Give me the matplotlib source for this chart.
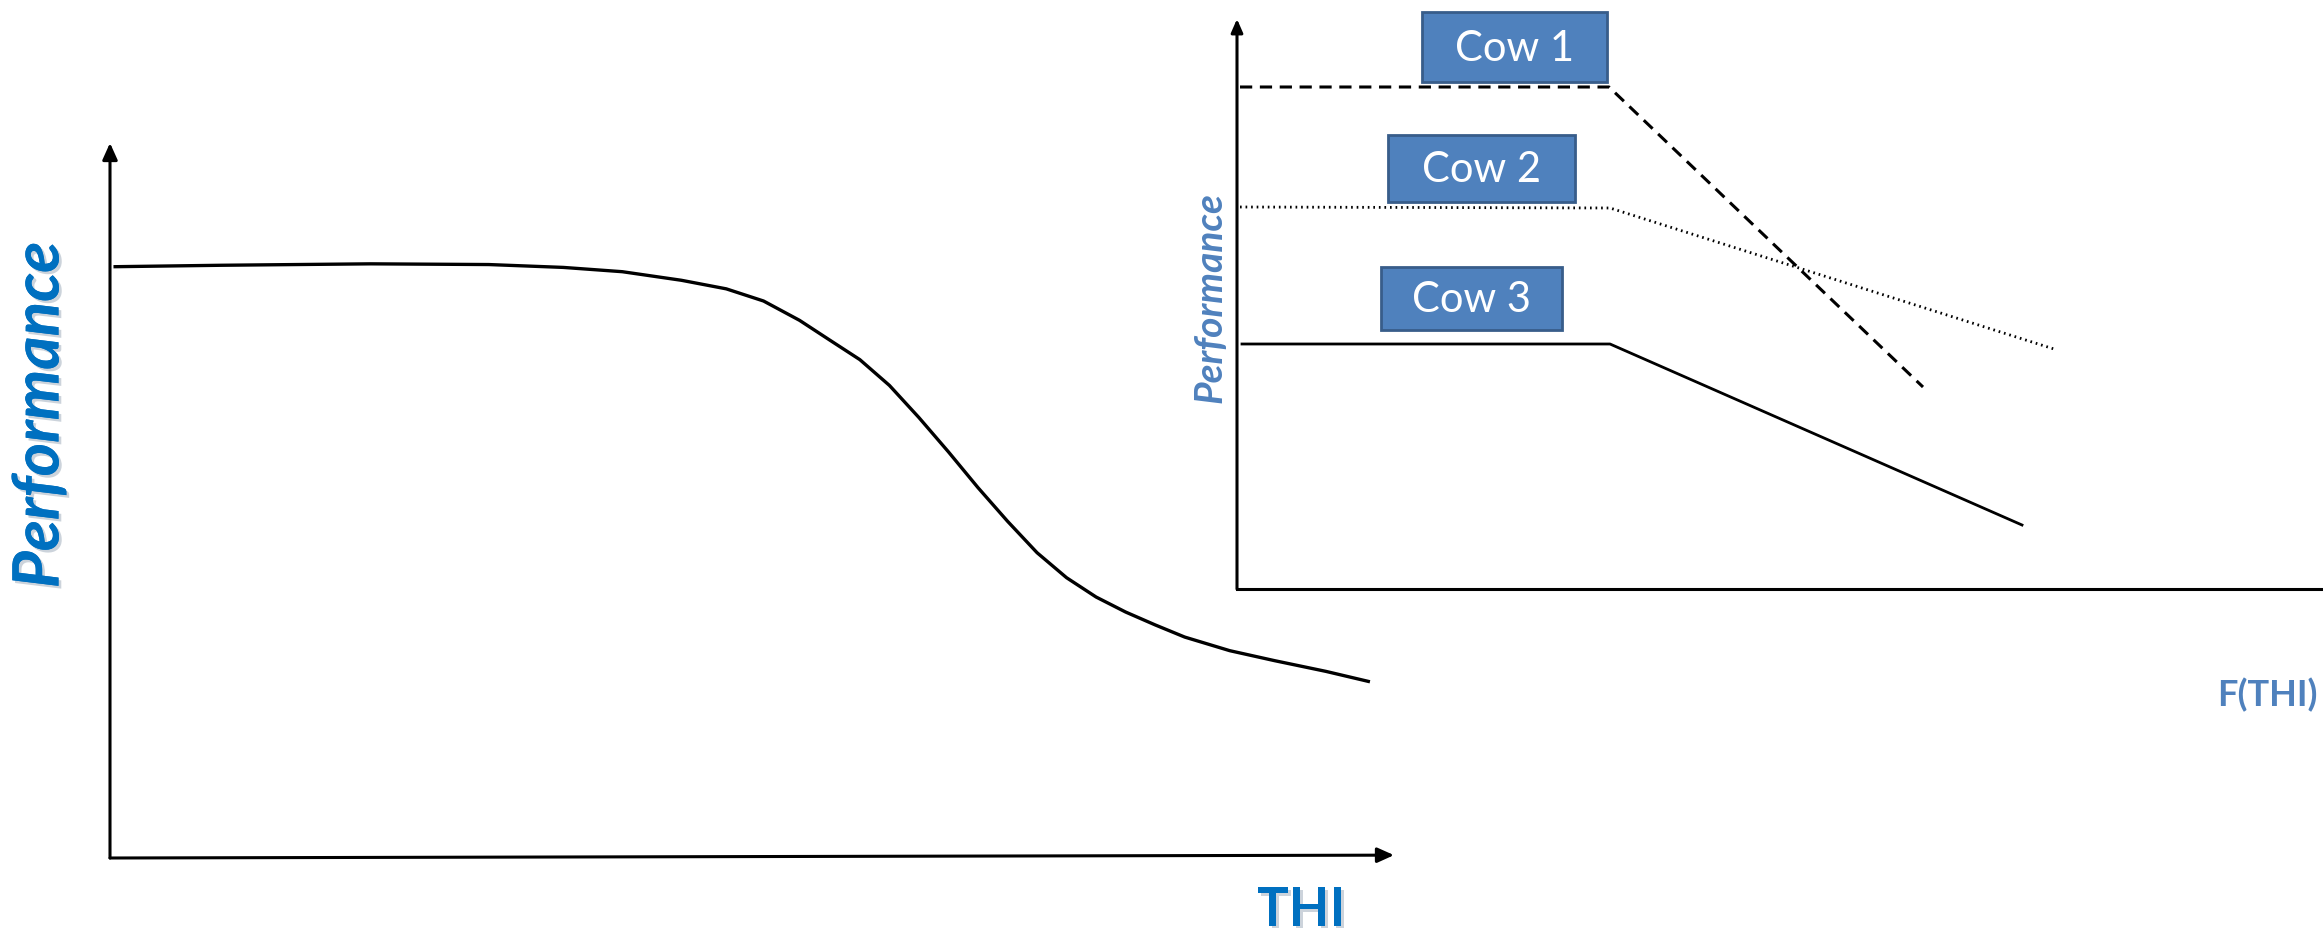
import matplotlib
matplotlib.use("Agg")
import matplotlib.pyplot as plt
from matplotlib.patches import Rectangle
import matplotlib.patheffects as pe

plt.rcParams['font.family'] = ['Lato', 'DejaVu Sans']

# Left panel: performance vs THI (arbitrary units 0-100)
thi = [0.4, 8.7, 20.3, 29.5, 35.3, 39.9, 44.5, 48.0, 50.9, 53.7, 56.0, 58.4,
       60.7, 63.0, 65.3, 67.6, 69.9, 72.2, 74.5, 76.8, 79.1, 81.4, 83.7, 87.2,
       90.7, 94.7, 98.0]
perf = [82.7, 82.9, 83.1, 83.0, 82.6, 82.0, 80.8, 79.6, 77.9, 75.2, 72.5, 69.7,
        66.1, 61.6, 56.8, 51.8, 47.1, 42.7, 39.2, 36.5, 34.4, 32.6, 30.9, 29.0,
        27.6, 26.1, 24.7]

# Right panel: three cows, plateau then decline
cow_names = ["Cow 1", "Cow 2", "Cow 3"]
cow_x = [[0.3, 37.2, 68.6], [0.3, 37.3, 81.7], [0.5, 37.3, 78.5]]
cow_y = [[50.1, 50.1, 20.1], [38.1, 38.0, 23.9], [24.4, 24.4, 6.3]]
cow_styles = [(0, (4, 2.5)), (0, (0.6, 1.4)), '-']
cow_lw = [2.2, 2.0, 2.0]
# label boxes (x0, x1, y0, y1)
box_x = [(18.5, 37.0), (15.1, 33.8), (14.4, 32.5)]
box_y = [(50.6, 57.6), (38.6, 45.3), (25.8, 32.1)]

W, H = 2323, 939
fig = plt.figure(figsize=(W / 100, H / 100), dpi=100)

blue = "#0070C0"
blue2 = "#4F81BD"

# ---- left panel
ax1 = fig.add_axes([110 / W, 81 / H, 1284 / W, 715 / H])
ax1.set_xlim(0, 100)
ax1.set_ylim(0, 100)
ax1.axis("off")
ax1.plot(thi, perf, color="black", lw=2.4, solid_joinstyle="round")
ax1.annotate("", xy=(0, 100), xytext=(0, 0),
             arrowprops=dict(arrowstyle="-|>,head_length=1.0,head_width=0.45",
                             color="black", lw=2.2, shrinkA=0, shrinkB=0))
ax1.annotate("", xy=(100, 0.4), xytext=(0, 0),
             arrowprops=dict(arrowstyle="-|>,head_length=1.0,head_width=0.45",
                             color="black", lw=2.2, shrinkA=0, shrinkB=0))

# ---- right panel
ax2 = fig.add_axes([1237 / W, 351 / H, 1086 / W, 588 / H])
ax2.set_xlim(0, 108.6)
ax2.set_ylim(0, 58.8)
ax2.axis("off")
for xs, ys, ls, lw in zip(cow_x, cow_y, cow_styles, cow_lw):
    ax2.plot(xs, ys, color="black", ls=ls, lw=lw)
ax2.plot([0, 108.6], [-0.1, -0.1], color="black", lw=2.2, clip_on=False)
ax2.annotate("", xy=(0, 56.9), xytext=(0, -0.1),
             arrowprops=dict(arrowstyle="-|>,head_length=0.8,head_width=0.35",
                             color="black", lw=2.2, shrinkA=0, shrinkB=0))
for name, bx, by in zip(cow_names, box_x, box_y):
    ax2.add_patch(Rectangle((bx[0], by[0]), bx[1] - bx[0], by[1] - by[0],
                            facecolor=blue2, edgecolor="#385D8A", lw=2,
                            clip_on=False, zorder=3))
    ax2.text((bx[0] + bx[1]) / 2, (by[0] + by[1]) / 2 - 0.2, name,
             color="white", fontsize=30, ha="center", va="center", zorder=4)

# ---- labels
shadow = [pe.withSimplePatchShadow(offset=(2, -2), shadow_rgbFace="#9aa9b8", alpha=0.5),
          pe.Normal()]
fig.text(40 / W, 1 - 415 / H, "Performance", rotation=90, color=blue,
         fontsize=46, fontweight="bold", fontstyle="italic",
         ha="center", va="center", path_effects=shadow)
fig.text(1301 / W, 1 - 910 / H, "THI", color=blue, fontsize=38,
         fontweight="bold", ha="center", va="center", path_effects=shadow)
fig.text(1210 / W, 1 - 298 / H, "Performance", rotation=90, color=blue2,
         fontsize=28, fontweight="bold", fontstyle="italic",
         ha="center", va="center")
fig.text(2267 / W, 1 - 695 / H, "F(THI)", color=blue2, fontsize=26,
         fontweight="bold", ha="center", va="center")

fig.savefig("out.png", dpi=100)
